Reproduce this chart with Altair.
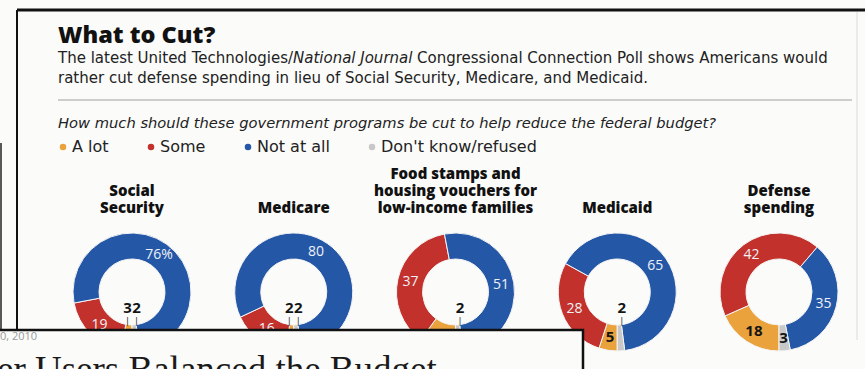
import math
import altair as alt
import pandas as pd

# ---------------- data ----------------
programs = ["Social Security", "Medicare",
            "Food stamps and housing vouchers for low-income families",
            "Medicaid", "Defense spending"]
program_labels = ["Social\nSecurity", "Medicare",
                  "Food stamps and\nhousing vouchers for\nlow-income families",
                  "Medicaid", "Defense\nspending"]
categories = ["A lot", "Some", "Not at all", "Don't know/refused"]
a_lot = [3, 2, 10, 5, 18]
some = [19, 16, 37, 28, 42]
not_at_all = [76, 80, 51, 65, 35]
dont_know = [2, 2, 2, 2, 3]
colors = ["#E9A23C", "#C2312B", "#2557A7", "#C8C8C8"]

title_text = "What to Cut?"
sub1_parts = ["The latest United Technologies/", "National Journal",
              "Congressional Connection Poll shows Americans would"]
sub2_text = "rather cut defense spending in lieu of Social Security, Medicare, and Medicaid."
question_text = "How much should these government programs be cut to help reduce the federal budget?"
overlay_date = "0, 2010"
overlay_headline = "er Users Balanced the Budget"

rows = []
series = [a_lot, some, not_at_all, dont_know]
for i, p in enumerate(programs):
    for j, c in enumerate(categories):
        rows.append({"program": p, "category": c, "order": j, "value": series[j][i]})
df = pd.DataFrame(rows)

head_rows = []
for p, lab in zip(programs, program_labels):
    lines = lab.split("\n")
    for k, line in enumerate(reversed(lines)):
        head_rows.append({"program": p, "line": line, "k": k})
heads_df = pd.DataFrame(head_rows)

FONT = "Open Sans"
BODY = "DejaVu Sans"
CY = 292

X = alt.X("program:N",
          scale=alt.Scale(type="point", domain=programs, range=[132, 779], padding=0),
          axis=None)
theta_scale = alt.Scale(domain=[0, 1], range=[math.pi, 3 * math.pi])

base = (
    alt.Chart(df)
    .transform_stack(stack="value", groupby=["program"],
                     sort=[alt.SortField(field="order")],
                     as_=["v0", "v1"], offset="normalize")
    .transform_calculate(
        mid="(datum.v0 + datum.v1) / 2",
        span="datum.v1 - datum.v0",
        lbl="'' + datum.value + (datum.program == 'Social Security' && datum.category == 'Not at all' ? '%' : '')",
        dark="datum.category == 'A lot' || datum.category == \"Don't know/refused\"",
    )
)

arcs = base.mark_arc(innerRadius=33, outerRadius=59, stroke="#f4f4f4", strokeWidth=1).encode(
    x=X,
    y=alt.value(CY),
    theta=alt.Theta("v0:Q", scale=theta_scale, stack=False),
    theta2="v1:Q",
    color=alt.Color(
        "category:N",
        scale=alt.Scale(domain=categories, range=colors),
        legend=alt.Legend(
            title=None, orient="none", legendX=55, legendY=139,
            direction="horizontal", symbolType="circle", symbolSize=42,
            symbolStrokeWidth=0, labelFont=BODY, labelFontSize=16,
            labelColor="#222222", columnPadding=34, labelOffset=1,
            labelLimit=300,
        ),
    ),
)

ring_light = base.transform_filter("!datum.dark").mark_text(
    radius=46, font=FONT, fontSize=14, color="#eef2f8"
).encode(
    x=X, y=alt.value(CY),
    theta=alt.Theta("mid:Q", scale=theta_scale, stack=False),
    text="lbl:N",
)

ring_dark = base.transform_filter("datum.dark && datum.span >= 0.0305").mark_text(
    radius=46, font=FONT, fontSize=15, fontWeight="bold", color="#151515"
).encode(
    x=X, y=alt.value(CY),
    theta=alt.Theta("mid:Q", scale=theta_scale, stack=False),
    text="lbl:N",
)

inside = base.transform_filter("datum.span < 0.0305")
inside_left = inside.transform_filter("datum.mid < 0.5").mark_text(
    dx=-4.5, font=FONT, fontSize=15, fontWeight="bold", color="#151515"
).encode(x=X, y=alt.value(CY + 16), text="lbl:N")
inside_right = inside.transform_filter("datum.mid >= 0.5").mark_text(
    dx=4.5, font=FONT, fontSize=15, fontWeight="bold", color="#151515"
).encode(x=X, y=alt.value(CY + 16), text="lbl:N")
tick_left = inside.transform_filter("datum.mid < 0.5").mark_text(
    dx=-4.5, font="DejaVu Sans", fontSize=9, color="#333333", text="|"
).encode(x=X, y=alt.value(CY + 29))
tick_right = inside.transform_filter("datum.mid >= 0.5").mark_text(
    dx=4.5, font="DejaVu Sans", fontSize=9, color="#333333", text="|"
).encode(x=X, y=alt.value(CY + 29))

heads = alt.Chart(heads_df).mark_text(
    font=FONT, fontSize=15, fontWeight=800, baseline="alphabetic", color="#111111"
).encode(
    x=X,
    y=alt.Y("k:Q", scale=alt.Scale(domain=[0, 2], range=[213, 179]), axis=None),
    text="line:N",
)


def txt(s, x, y, **kw):
    return alt.Chart(pd.DataFrame({"t": [s]})).mark_text(
        align="left", baseline="alphabetic", **kw
    ).encode(x=alt.value(x), y=alt.value(y), text="t:N")


title = txt(title_text, 58, 43, font=FONT, fontSize=23.5, fontWeight=800, color="#111111")
sub1a = txt(sub1_parts[0], 58, 63, font=BODY, fontSize=15, color="#222222")
sub1b = txt(sub1_parts[1], 293, 63, font=BODY, fontSize=15, fontStyle="italic", color="#222222")
sub1c = txt(sub1_parts[2], 417, 63, font=BODY, fontSize=15, color="#222222")
sub2 = txt(sub2_text, 58, 83, font=BODY, fontSize=15, color="#222222")
question = txt(question_text, 58, 128, font=BODY, fontSize=14.7, fontStyle="italic", color="#222222")

one = alt.Chart(pd.DataFrame({"k": [0]}))
sep = one.mark_rule(color="#a0a0a0", strokeWidth=1).encode(
    x=alt.value(58), x2=alt.value(852), y=alt.value(100))
top_edge = one.mark_rule(color="#111111", strokeWidth=3).encode(
    x=alt.value(17), x2=alt.value(865), y=alt.value(10))
left_edge = one.mark_rule(color="#111111", strokeWidth=2).encode(
    x=alt.value(17), y=alt.value(10), y2=alt.value(330))
page_edge = one.mark_rule(color="#222222", strokeWidth=1.5).encode(
    x=alt.value(1), y=alt.value(143), y2=alt.value(330))
right_edge = one.mark_rule(color="#d8dcd8", strokeWidth=1).encode(
    x=alt.value(857), y=alt.value(12), y2=alt.value(340))

overlay = one.mark_rect(fill="#fbfbfa", stroke="#111111", strokeWidth=2.5).encode(
    x=alt.value(-5), x2=alt.value(583), y=alt.value(330), y2=alt.value(385))
ov_date = txt(overlay_date, 0, 340, font=FONT, fontSize=11, color="#9a9a9a")
ov_head = txt(overlay_headline, -3, 382, font="Liberation Serif", fontSize=37, color="#1a1a1a")

chart = alt.layer(
    top_edge, left_edge, page_edge, right_edge,
    title, sub1a, sub1b, sub1c, sub2, sep, question, heads,
    arcs, ring_light, ring_dark, inside_left, inside_right, tick_left, tick_right,
    overlay, ov_date, ov_head,
).properties(
    width=865, height=369,
    autosize=alt.AutoSizeParams(type="none"),
    padding=0,
    background="#fbfbfa",
).configure_view(strokeWidth=0)

chart.save("out.html", embed_options={"renderer": "svg", "actions": False})
